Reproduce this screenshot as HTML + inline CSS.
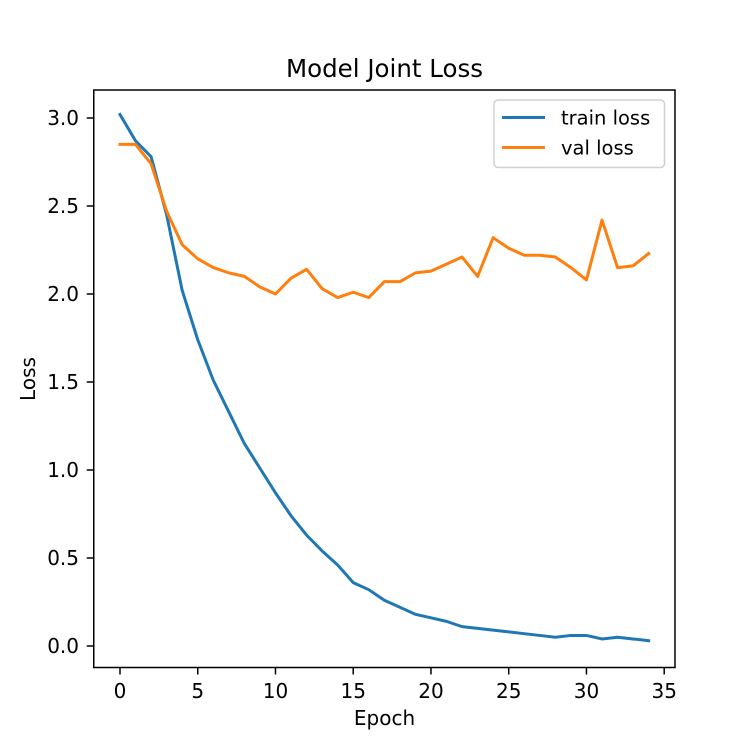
<!DOCTYPE html>
<html><head><meta charset="utf-8"><style>body{margin:0;background:#fff}svg text{font-family:"DejaVu Sans","Liberation Sans",sans-serif;fill:#000}</style></head>
<body>
<svg id="chart" width="750" height="750" viewBox="0 0 750 750" xmlns="http://www.w3.org/2000/svg">
<rect width="750" height="750" fill="#fff"/>
<text x="384.5" y="77" font-size="24.5" text-anchor="middle">Model Joint Loss</text>
<text x="384.5" y="725" font-size="20" text-anchor="middle">Epoch</text>
<text x="35" y="379" font-size="20" text-anchor="middle" transform="rotate(-90 35 379)">Loss</text>
</svg>
<script>
const epochs=[0,1,2,3,4,5,6,7,8,9,10,11,12,13,14,15,16,17,18,19,20,21,22,23,24,25,26,27,28,29,30,31,32,33,34];
const trainLoss=[3.02,2.87,2.78,2.45,2.02,1.74,1.51,1.33,1.15,1.01,0.87,0.74,0.63,0.54,0.46,0.36,0.32,0.26,0.22,0.18,0.16,0.14,0.11,0.10,0.09,0.08,0.07,0.06,0.05,0.06,0.06,0.04,0.05,0.04,0.03];
const valLoss=[2.85,2.85,2.74,2.47,2.28,2.20,2.15,2.12,2.10,2.04,2.00,2.09,2.14,2.03,1.98,2.01,1.98,2.07,2.07,2.12,2.13,2.17,2.21,2.10,2.32,2.26,2.22,2.22,2.21,2.15,2.08,2.42,2.15,2.16,2.23];
const xTicks=[0,5,10,15,20,25,30,35];
const yTicks=[0.0,0.5,1.0,1.5,2.0,2.5,3.0];
const L=93.75,R=675,T=90,B=667.5;
const xs=v=>120+(v-0)*(664.2-120)/35;
const ys=v=>646-v*176;
const svg=document.getElementById('chart');
const NS='http://www.w3.org/2000/svg';
function mk(t,a){const e=document.createElementNS(NS,t);for(const k in a)e.setAttribute(k,a[k]);svg.appendChild(e);return e;}
function series(d,c,n){const p=mk('polyline',{points:d.map((v,i)=>xs(epochs[i])+','+ys(v)).join(' '),fill:'none',stroke:c,'stroke-width':3,'stroke-linejoin':'round','stroke-linecap':'square'});

}
series(trainLoss,'#1f77b4','train-loss-line');
series(valLoss,'#ff7f0e','val-loss-line');
const fr=mk('rect',{x:L,y:T,width:R-L,height:B-T,fill:'none',stroke:'#000','stroke-width':1.5});


xTicks.forEach(v=>{const x=xs(v);mk('line',{x1:x,x2:x,y1:B,y2:B+7,stroke:'#000','stroke-width':1.5});const t=mk('text',{x:x,y:698,'font-size':20,'text-anchor':'middle'});t.textContent=v;

});
yTicks.forEach(v=>{const y=ys(v);mk('line',{x1:L-7,x2:L,y1:y,y2:y,stroke:'#000','stroke-width':1.5});const t=mk('text',{x:79,y:y+7,'font-size':20,'text-anchor':'end'});t.textContent=v.toFixed(1);

});
const lg=mk('rect',{x:494,y:100,width:170.5,height:67.5,rx:4,fill:'#fff','fill-opacity':0.8,stroke:'#d0d0d0','stroke-width':1.5});


[['train loss','#1f77b4',117.5],['val loss','#ff7f0e',147.5]].forEach(([n,c,y])=>{mk('line',{x1:502,x2:545,y1:y,y2:y,stroke:c,'stroke-width':3});const t=mk('text',{x:561,y:y+7,'font-size':19.5});t.textContent=n;

});
</script>
</body></html>
